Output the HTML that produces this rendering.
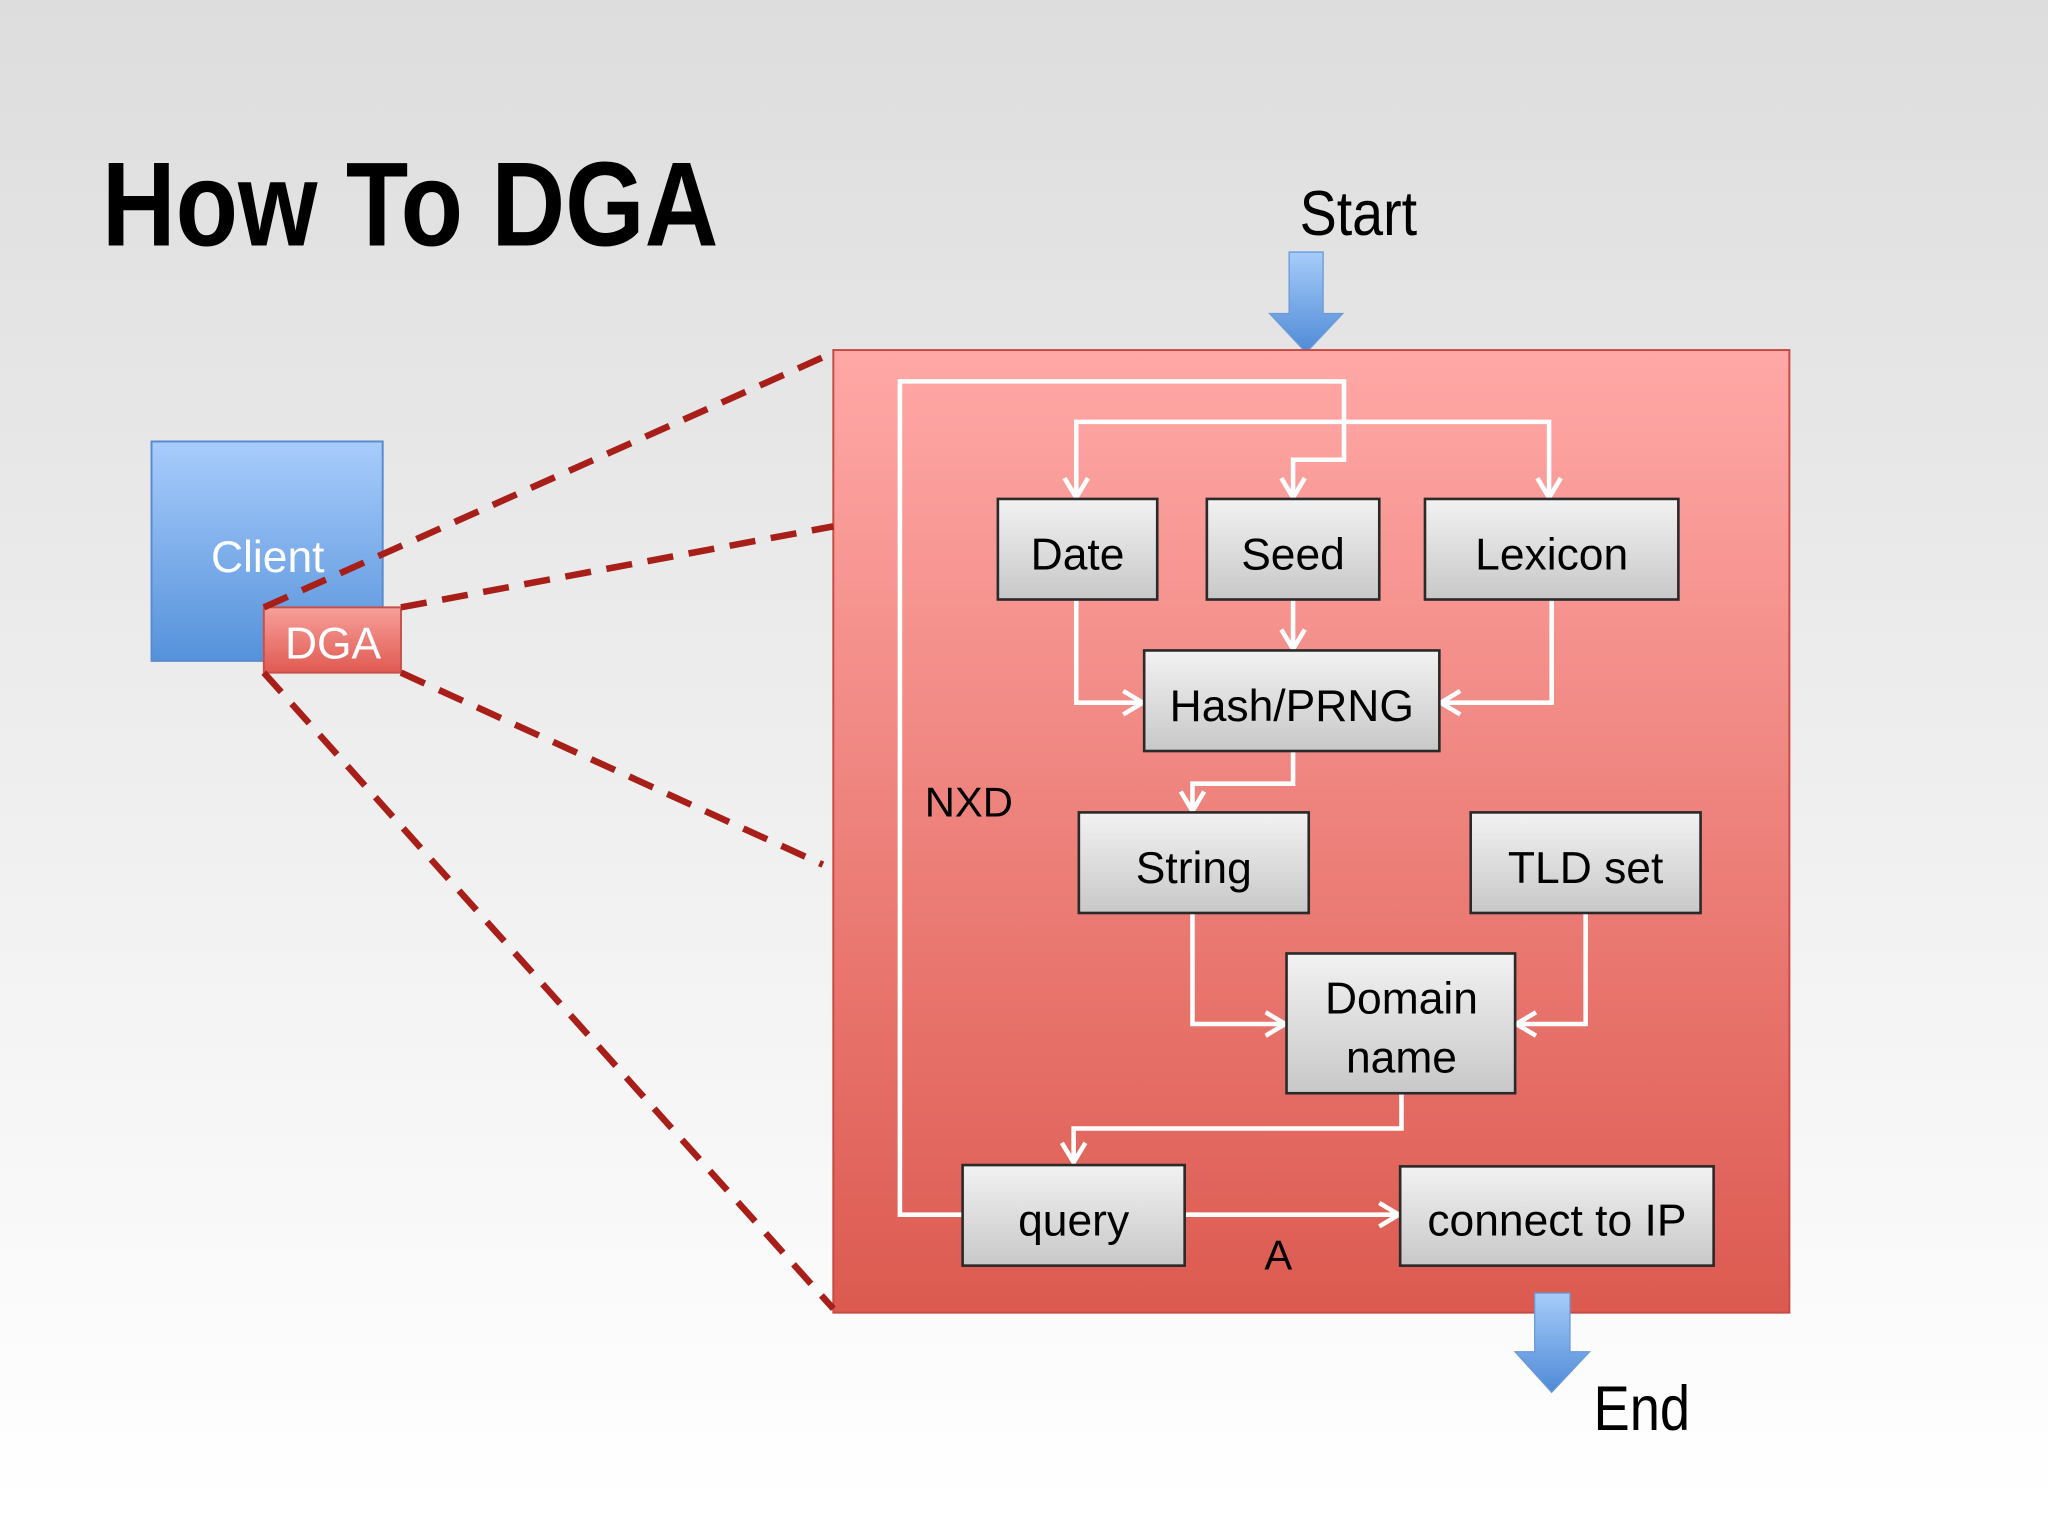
<!DOCTYPE html>
<html><head><meta charset="utf-8"><style>html,body{margin:0;padding:0;width:2048px;height:1536px;overflow:hidden;background:#fff}svg{display:block}</style></head>
<body>
<svg width="2048" height="1536" viewBox="0 0 1568 1176" preserveAspectRatio="none" xmlns="http://www.w3.org/2000/svg" font-family="Liberation Sans, sans-serif">
<defs>
<linearGradient id="bg" x1="0" y1="0" x2="0" y2="1"><stop offset="0" stop-color="#dddddd"/><stop offset="1" stop-color="#ffffff"/></linearGradient>
<linearGradient id="red" x1="0" y1="0" x2="0" y2="1"><stop offset="0" stop-color="#ffa8a6"/><stop offset="1" stop-color="#dc5a50"/></linearGradient>
<linearGradient id="blue" x1="0" y1="0" x2="0" y2="1"><stop offset="0" stop-color="#a8ccfc"/><stop offset="1" stop-color="#5592da"/></linearGradient>
<linearGradient id="dga" x1="0" y1="0" x2="0" y2="1"><stop offset="0" stop-color="#f7a09a"/><stop offset="1" stop-color="#e05a52"/></linearGradient>
<linearGradient id="gray" x1="0" y1="0" x2="0" y2="1"><stop offset="0" stop-color="#f2f2f2"/><stop offset="1" stop-color="#c8c8c8"/></linearGradient>
<linearGradient id="arr" x1="0" y1="0" x2="0" y2="1"><stop offset="0" stop-color="#a6ccfa"/><stop offset="1" stop-color="#4f8ad6"/></linearGradient>
</defs>
<rect width="1568" height="1176" fill="#fff"/>
<rect width="1568" height="1152" fill="url(#bg)"/>
<text x="78" y="188" font-size="92" font-weight="bold" textLength="472" lengthAdjust="spacingAndGlyphs">How To DGA</text>
<text x="995" y="180" font-size="48" textLength="90" lengthAdjust="spacingAndGlyphs">Start</text>
<polygon points="987,193 1013,193 1013,240 1028,240 1000,270 972,240 987,240" fill="url(#arr)" stroke="#6a9ad8" stroke-width="1"/>
<rect x="638" y="268" width="732" height="737" fill="url(#red)" stroke="#c84a44" stroke-width="1.5"/>
<rect x="116" y="338" width="177" height="168" fill="url(#blue)" stroke="#5a8ad0" stroke-width="1.5"/>
<text x="205" y="438" font-size="34" fill="#fff" text-anchor="middle">Client</text>
<rect x="202" y="465" width="105" height="50" fill="url(#dga)" stroke="#c8504a" stroke-width="1.5"/>
<text x="255" y="504" font-size="34" fill="#fff" text-anchor="middle">DGA</text>
<g stroke="#a81e18" stroke-width="5" stroke-dasharray="20,12" fill="none">
<line x1="202" y1="465" x2="638" y2="270"/>
<line x1="307" y1="465" x2="638" y2="403"/>
<line x1="307" y1="515" x2="630" y2="662"/>
<line x1="202" y1="515" x2="638" y2="1002"/>
</g>
<g stroke="#fff" stroke-width="3.5" fill="none" stroke-linejoin="miter">
<polyline points="737,930 689,930 689,292 1029,292 1029,352 990,352 990,380"/>
<polyline points="824,380 824,323 1186,323 1186,380"/>
<polyline points="990,459 990,496"/>
<polyline points="824,459 824,538 874,538"/>
<polyline points="1188,459 1188,538 1104,538"/>
<polyline points="990,575 990,600 913,600 913,620"/>
<polyline points="913,699 913,784 983,784"/>
<polyline points="1214,699 1214,784 1162,784"/>
<polyline points="1073,837 1073,864 822,864 822,890"/>
<polyline points="907,930 1070,930"/>
<polyline points="815,366 824,381 833,366"/>
<polyline points="981,366 990,381 999,366"/>
<polyline points="1177,366 1186,381 1195,366"/>
<polyline points="981,482 990,497 999,482"/>
<polyline points="860,529 875,538 860,547"/>
<polyline points="1118,529 1103,538 1118,547"/>
<polyline points="904,606 913,621 922,606"/>
<polyline points="969,775 984,784 969,793"/>
<polyline points="1176,775 1161,784 1176,793"/>
<polyline points="813,875 822,890 831,875"/>
<polyline points="1056,921 1071,930 1056,939"/>
</g>
<g stroke="#2a2a2a" stroke-width="2" fill="url(#gray)">
<rect x="764" y="382" width="122" height="77"/>
<rect x="924" y="382" width="132" height="77"/>
<rect x="1091" y="382" width="194" height="77"/>
<rect x="876" y="498" width="226" height="77"/>
<rect x="826" y="622" width="176" height="77"/>
<rect x="1126" y="622" width="176" height="77"/>
<rect x="985" y="730" width="175" height="107"/>
<rect x="737" y="892" width="170" height="77"/>
<rect x="1072" y="893" width="240" height="76"/>
</g>
<g font-size="34" fill="#000" text-anchor="middle">
<text x="825" y="436">Date</text>
<text x="990" y="436">Seed</text>
<text x="1188" y="436">Lexicon</text>
<text x="989" y="552">Hash/PRNG</text>
<text x="914" y="676">String</text>
<text x="1214" y="676">TLD set</text>
<text x="1073" y="776">Domain</text>
<text x="1073" y="821">name</text>
<text x="822" y="946">query</text>
<text x="1192" y="946">connect to IP</text>
</g>
<text x="708" y="625" font-size="32">NXD</text>
<text x="968" y="972" font-size="32">A</text>
<polygon points="1175,990 1202,990 1202,1035 1217,1035 1188,1066 1160,1035 1175,1035" fill="url(#arr)" stroke="#6a9ad8" stroke-width="1"/>
<text x="1220" y="1095" font-size="48" textLength="74" lengthAdjust="spacingAndGlyphs">End</text>
</svg>
</body></html>
